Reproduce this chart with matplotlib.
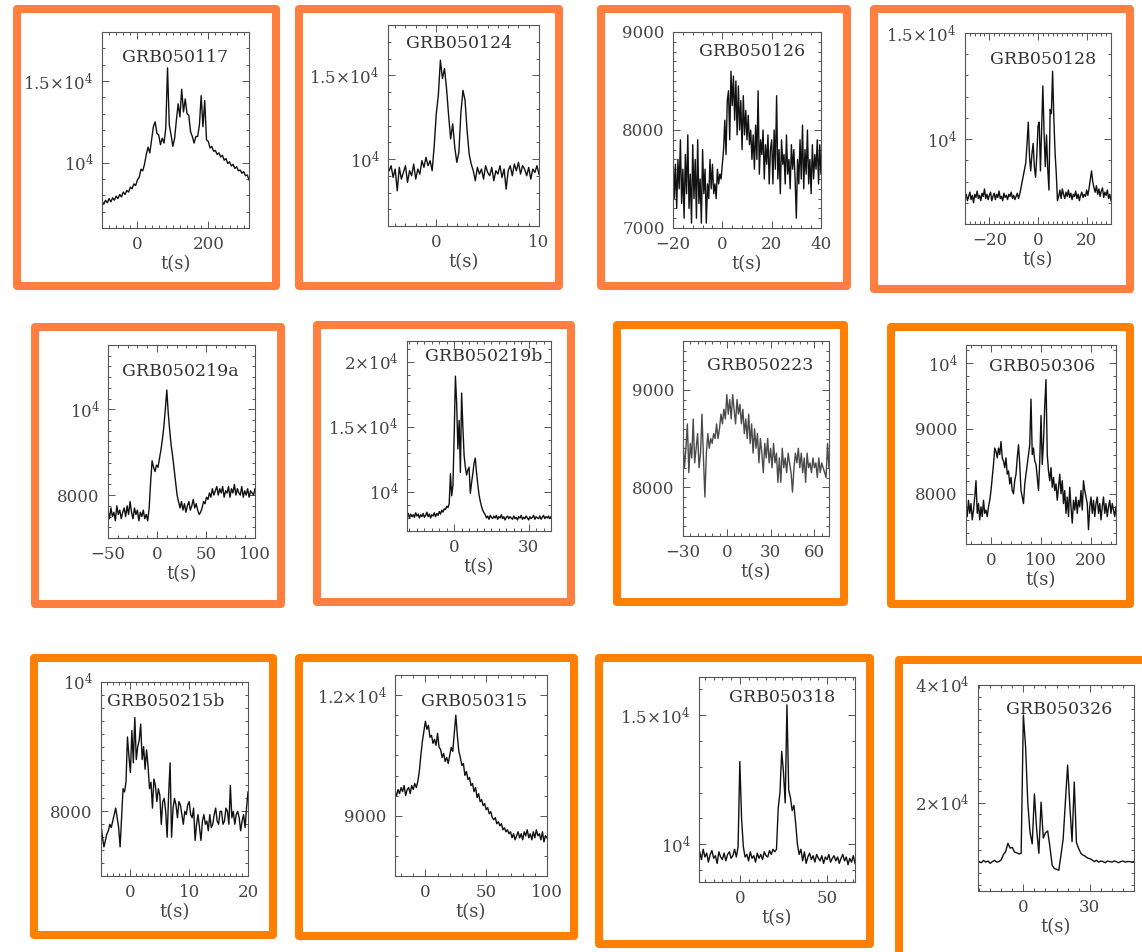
import numpy as np
import matplotlib.pyplot as plt
from matplotlib.patches import Rectangle
from matplotlib.ticker import MultipleLocator

plt.rcParams['font.family'] = ['DejaVu Serif']
plt.rcParams['mathtext.fontset'] = 'dejavuserif'

# burst names, time span of the binned light curves (s) and count rates
names = ['GRB050117', 'GRB050124', 'GRB050126', 'GRB050128',
         'GRB050219a', 'GRB050219b', 'GRB050223', 'GRB050306',
         'GRB050215b', 'GRB050315', 'GRB050318', 'GRB050326']
t_spans = [(-100, 315), (-4.6, 10), (-20, 40), (-30, 30),
           (-50, 100), (-19, 39), (-30, 70), (-50, 250),
           (-5, 20), (-25, 100), (-23, 66), (-20, 50)]

rate_050117 = [7650, 7450, 7700, 7550, 7800, 7600, 7850, 7700, 7950, 7800, 8050, 7900, 8200, 8050,
               8300, 8200, 8500, 8400, 8700, 8600, 8950, 9100, 9600, 9500, 9900, 10500, 10950, 10600,
               11400, 12200, 12500, 11800, 11700, 11100, 11500, 11200, 12100, 15800, 12300, 11700,
               11000, 11500, 12600, 13600, 12800, 14500, 13100, 13900, 13000, 12900, 11900, 11600,
               11200, 11600, 11600, 12300, 14100, 12200, 13800, 11400, 11300, 10900, 11000, 10700,
               10750, 10500, 10600, 10350, 10450, 10150, 10250, 9950, 10050, 9800, 9900, 9650, 9750,
               9500, 9550, 9350, 9450, 9200, 9250, 8950]
rate_050124 = [9300, 9600, 8900, 9400, 8100, 9500, 8800, 9200, 9600, 8600, 9300, 9000, 9700, 8800,
               9400, 9100, 9900, 9500, 10100, 9600, 9900, 9300,
               10800, 12700, 13800, 15900, 14800, 15400, 14200, 12600, 11200, 12100, 10700, 9800,
               10400, 12800, 14100, 13500, 11700, 10300, 9700, 9300,
               8700, 9500, 9100, 9400, 8800, 9600, 9200, 9000, 9500, 8700, 9300, 9100, 9600, 8900,
               9400, 8200, 9300, 9600, 9000, 9700, 9300, 9800, 9100, 9600, 9400, 9000, 9500, 8800,
               9400, 9200, 9600, 9100]
rate_050126 = [7800, 7300, 7650, 7200, 7700, 7400, 7900, 7250, 7600, 7100, 7750, 7350, 7950, 7200,
               7550, 7050, 7850, 7300, 7700, 7100, 7900, 7250, 7500, 7050, 7800, 7350, 7600, 7050,
               7450, 7300, 7700, 7400, 7650, 7350, 7450, 7300, 7600, 7450, 7550, 7500,
               7650, 7800, 8100, 7750, 8300, 8400, 7900, 8600, 8250, 8550, 8100, 8500,
               7950, 8450, 8000, 8300, 7800, 8350, 7950, 8200, 7900, 8150, 7850, 8000, 7700,
               7950, 7600, 8050, 7700, 8400, 7550, 7900, 7750, 8000, 7500, 7850, 7650, 7950, 7450,
               7800, 7900,
               7450, 8000, 7600, 8350, 7500, 7800, 7350, 7900, 7650, 7750, 7450, 7950, 7550, 7700,
               7400, 7850, 7600, 7800, 7500, 7100,
               7700, 7450, 7900, 7500, 8050, 7400, 7800, 7550, 8000, 7450, 7700, 7350, 7850, 7500,
               7750, 7600, 7900, 7450, 7850, 7550]
rate_050128 = [7200, 7400, 7100, 7300, 7500, 7150, 7350, 7000, 7400, 7250, 7550, 7200, 7350, 7100,
               7450, 7300, 7650, 7200, 7400, 7150, 7350, 7500, 7100, 7300, 7450, 7150, 7400, 7250,
               7550, 7200, 7300, 7100, 7450, 7250, 7350, 7150, 7400, 7300, 7500, 7200, 7350, 7150,
               7300, 7450, 7200, 7400,
               7700, 8000, 8300, 8600, 8900, 9800, 10800, 9200, 8500, 9300, 9800, 8700, 8200, 9200,
               10600, 10800, 8500, 10500, 12500, 10300, 8700, 10200, 8600, 7600, 11400, 11200, 13200,
               11000, 9400, 8400, 7100,
               7300, 7600, 7200, 7650, 7400, 7200, 7500, 7300, 7600, 7250, 7450, 7150, 7400, 7300,
               7550, 7200, 7400, 7100, 7350, 7500, 7250, 7400, 7300, 7600, 7350, 7700, 8100, 8500,
               8000, 7700, 7500, 7800, 7400, 7650, 7300, 7550, 7700, 7250, 7500, 7350, 7600, 7200,
               7400, 7100]
rate_050219a = [7650, 7450, 7700, 7500, 7600, 7400, 7750, 7550, 7650, 7450, 7600, 7700, 7500, 7750,
                7550, 7850, 7600, 7450, 7700, 7550, 7650, 7400, 7600, 7500, 7650, 7450, 7550, 7400,
                7700, 8300, 8800, 8650, 8550, 8700, 8650, 8850, 9050, 9300, 9600, 10000, 10450, 9900,
                9500, 9150, 8900, 8600, 8300, 8000, 7850,
                7700, 7850, 7650, 7800, 7600, 7750, 7850, 7650, 7750, 7900, 7700, 7800, 7650, 7550,
                7600, 7700, 7850, 7800, 7950, 7900, 8050, 7950, 8150, 8000, 8100, 8200, 8000, 8150,
                8050, 8200, 7950, 8100, 8050, 8200, 7950, 8150, 8050, 8250, 8000, 8150, 8050, 8000,
                8200, 7950, 8100, 8000, 8150, 7950, 8100, 8050, 8000, 8150]
rate_050219b = [8150, 8350, 8000, 8300, 8100, 8250, 8050, 8400, 8150, 8300, 8000, 8250, 8100, 8350,
                8050, 8200, 8450, 8100, 8300, 8000, 8250, 8150, 8400, 8100, 8350, 8200, 8500, 8300,
                8600, 8450, 8700, 8650,
                8900, 8800, 9100, 11400, 9700, 10500, 14300, 18900, 16800, 13300, 15500, 11500, 17600,
                15000, 12800, 11900, 11300, 11700, 11900, 9900, 10700, 11400, 12200, 12600, 11500,
                10600, 9800, 9300, 8900, 8600, 8400,
                8250, 8000, 8150, 7900, 8200, 8050, 7950, 8150, 8000, 8200, 7900, 8100, 8000, 8250,
                7950, 8100, 7850, 8050, 8150, 7950, 8100, 8000, 7900, 8150, 7950, 8050, 7850, 8100,
                8000, 8200, 7900, 8050, 7950, 8150, 8000, 7850, 8100, 7950, 8050, 8200, 7900, 8100,
                8000, 7950, 8150, 7900, 8050, 8200, 7950, 8100, 8000, 8150, 7950, 8100]
rate_050223 = [8500, 8200, 8400, 8650, 8150, 8450, 8300, 8700, 8250, 8400, 8550, 8200, 8350, 8750,
               8300, 7900, 8350, 8550,
               8400, 8500, 8450, 8550, 8500, 8650, 8500, 8600, 8750, 8650, 8800, 8700, 8950,
               8750, 8900, 8700, 8950, 8800, 8650, 8900, 8750, 8850, 8650,
               8800, 8550, 8700, 8500, 8750, 8450, 8650, 8350, 8600, 8400, 8550, 8250, 8500, 8350,
               8150, 8450, 8300, 8500, 8250, 8400,
               8200, 8450, 8250, 8350, 8050, 8300, 8050, 8400, 8200, 8300, 8150, 8350, 8250, 8150,
               7950, 8200, 8350, 8250, 8400, 8200,
               8350, 8150, 8300, 8050, 8350, 8200, 8250, 8150, 8300, 8200, 8250, 8100, 8300, 8150,
               8250, 8200, 8150, 8100, 8450, 8200]
rate_050306 = [7800, 7650, 7900, 7700, 7850, 7600, 7750, 7950, 8200, 7700, 7850, 7600, 7800, 7650,
               7900, 7700, 7750, 7650, 7800,
               7900, 8050, 8250, 8450, 8700, 8650, 8550, 8700, 8600, 8800,
               8550, 8500, 8400, 8550, 8300, 8350, 8150, 8250, 8050, 8000, 8200,
               8300, 8550, 8750, 8450, 8050, 7950, 7850, 8150, 8300, 8450, 8600,
               8750, 9450, 8600, 8700, 8500, 8450, 8250, 8050, 8500, 9200, 8450, 8800, 9350, 9750,
               8600, 8350, 8200, 8400,
               8100, 8250, 8050, 8150, 7900, 8100, 8300, 8000, 8200, 7850, 8050, 7700, 7950, 7650,
               8100, 7800, 7550, 7900, 7750, 7950, 7700, 7900, 7800, 8050, 7750, 8200, 8050, 7950,
               7850, 7450, 7800, 7950, 7700, 7900, 7650, 7850, 7950, 7700, 7850, 7600, 7800, 7950,
               7700, 7850, 7650, 7800, 7900, 7700, 7850, 7750, 7650, 7800]
rate_050215b = [7800, 7600, 7450, 7550, 7650, 7700, 7800, 7750, 7850, 7950, 8050, 7900, 7750, 7450,
                7900, 8350, 8300, 8450, 9150, 8850, 8600, 9250, 8750, 9450, 8800, 9000, 9100, 9350,
                8800, 9000, 8650, 8950, 8700, 8350, 8450, 8050, 8500, 8400, 8150, 8350, 8250, 7800,
                8150, 8200, 8000, 7600, 8250, 8750, 7600, 8050, 8200, 8100, 7900, 8150, 8100, 7950,
                7800, 8000, 7950, 8100, 8150, 7950, 7900, 8050, 7550, 7800, 7950, 7750, 7550, 7850,
                7950, 7800, 7850, 7700, 7950, 7750, 7800, 7950, 8050, 7850, 7800, 8000, 8000, 7800,
                7850, 8050, 8000, 7800, 8400, 7900, 8000, 7800, 7950, 8000, 7900, 7700, 7850, 7950,
                7750, 8050, 8300]
rate_050315 = [9600, 9500, 9650, 9550, 9700, 9600, 9750, 9500, 9650, 9700, 9550, 9750, 9650, 9800,
               9700,
               9850, 10100, 10500, 10850, 11100, 11350,
               11150, 11250, 10950, 11000, 10800, 10900, 10750, 11050, 10700, 10650, 10450, 10550,
               10350, 10450, 10300, 10500, 10700, 10600, 11050, 11500,
               11000, 10600, 10450, 10250, 10300, 10000, 10100, 9900, 9950, 9750, 9800, 9600, 9700,
               9450, 9550, 9350, 9400, 9250, 9300, 9150,
               9200, 9050, 9100, 8950, 8900, 8950, 8800, 8850, 8750, 8800, 8650, 8700, 8600, 8650,
               8550, 8600, 8450, 8550, 8400, 8500,
               8600, 8450, 8550, 8400, 8600, 8500, 8650, 8450, 8550, 8400, 8600, 8450, 8650, 8500,
               8550, 8400, 8600, 8350, 8500, 8450]
rate_050318 = [9700, 9400, 9800, 9500, 9650, 9300, 9600, 9750, 9450, 9550, 9250, 9700, 9500, 9400,
               9650, 9350, 9600, 9700, 9450, 9550, 9800, 9500,
               9900, 13200, 11000, 9900, 9500,
               9600, 9350, 9700, 9450, 9550, 9300, 9650, 9450, 9600, 9400, 9700, 9550, 9500, 9750,
               9600, 9800, 9700,
               9800, 11400, 12000, 13600, 12800, 11600, 15400, 12100, 11800, 11300, 11500, 10800,
               10000, 9600,
               9800, 9350, 9700, 9250, 9500, 9650, 9400, 9550, 9300, 9600, 9450, 9350, 9550, 9250,
               9500, 9400, 9600, 9300, 9450, 9550, 9350, 9500, 9250, 9450, 9600, 9350, 9500, 9200,
               9450, 9300, 9550, 9250]
rate_050326 = [10000, 9800, 10200, 9900, 10100, 9700, 10000, 10200, 9900, 10000,
               10300, 11200, 11700, 13100, 12300, 12400, 11600, 11500, 11300, 11400,
               34900, 29500, 20000, 15000, 13000, 21500, 15500, 11400, 20100, 14000, 14900, 15200,
               12500, 9400, 8800, 8700, 8500,
               11100, 13900, 20200, 26400, 19500, 13400, 23500, 13200, 12200, 11400, 11100, 10900,
               10600, 10500,
               10300, 10000, 10200, 9900, 10100, 10000, 9800, 10100, 10000, 9900, 10100, 10000, 9800,
               10000, 10100, 9900, 10000, 10000, 9900, 10000]

rates = [rate_050117, rate_050124, rate_050126, rate_050128, rate_050219a, rate_050219b,
         rate_050223, rate_050306, rate_050215b, rate_050315, rate_050318, rate_050326]

# axis ranges and labelled ticks, as printed
xlims = [(-100, 315), (-4.7, 10), (-20, 40), (-30, 30), (-50, 100), (-19, 39),
         (-30, 70), (-50, 250), (-5, 20), (-25, 100), (-23.4, 66), (-20.5, 50)]
ylims = [(6000, 18000), (6000, 18000), (7000, 9000), (6000, 15000), (7000, 11500), (7000, 21600),
         (7500, 9500), (7230, 10280), (7000, 10000), (7500, 12500), (8530, 16480), (5000, 40000)]
xticks = [[0, 200], [0, 10], [-20, 0, 20, 40], [-20, 0, 20], [-50, 0, 50, 100], [0, 30],
          [-30, 0, 30, 60], [0, 100, 200], [0, 10, 20], [0, 50, 100], [0, 50], [0, 30]]
xminor = [20, 1, 4, 2, 10, 3, 5, 20, 1, 10, 5, 5]
yticks = [[10000, 15000], [10000, 15000], [7000, 8000, 9000], [10000, 15000], [8000, 10000],
          [10000, 15000, 20000], [8000, 9000], [8000, 9000, 10000], [8000, 10000],
          [9000, 12000], [10000, 15000], [20000, 40000]]
ylabels = [['10$^4$', '1.5×10$^4$'], ['10$^4$', '1.5×10$^4$'], ['7000', '8000', '9000'],
           ['10$^4$', '1.5×10$^4$'], ['8000', '10$^4$'], ['10$^4$', '1.5×10$^4$', '2×10$^4$'],
           ['8000', '9000'], ['8000', '9000', '10$^4$'], ['8000', '10$^4$'],
           ['9000', '1.2×10$^4$'], ['10$^4$', '1.5×10$^4$'], ['2×10$^4$', '4×10$^4$']]
yminor = [1000, 1000, 100, 1000, 250, 1000, 100, 200, 200, 500, 1000, 2000]

# layout in pixels: axes box and orange frame (x0, x1, y0, y1), name position in axes fraction
W, H = 1142, 952
ax_px = [(102, 249, 32, 228), (388, 539, 25, 226), (673, 821, 32, 228), (965, 1111, 33, 224),
         (108, 255, 345, 538), (407, 551, 341, 531), (683, 829, 341, 536), (966, 1116, 345, 544),
         (101, 248, 682, 876), (395, 547, 675, 876), (699, 855, 677, 882), (978, 1134, 685, 891)]
frame_px = [(17, 276, 9, 286), (299, 559, 9, 286), (601, 847, 9, 286), (874, 1130, 9, 289),
            (35, 281, 327, 604), (317, 571, 325, 602), (617, 844, 325, 602), (891, 1130, 327, 604),
            (34, 273, 658, 935), (299, 574, 658, 936), (599, 870, 658, 944), (899, 1165, 660, 975)]
name_pos = [(0.497, 0.872), (0.47, 0.91), (0.534, 0.898), (0.534, 0.859),
            (0.49, 0.865), (0.535, 0.921), (0.527, 0.872), (0.507, 0.894),
            (0.442, 0.897), (0.52, 0.866), (0.532, 0.902), (0.519, 0.879)]
coral = '#ff7f40'
orange = '#ff7f00'
frame_cols = [coral] * 6 + [orange] * 6

fig = plt.figure(figsize=(W / 100, H / 100), dpi=100)

for i in range(12):
    x0, x1, y0, y1 = frame_px[i]
    fig.add_artist(Rectangle((x0 / W, 1 - y1 / H), (x1 - x0) / W, (y1 - y0) / H,
                             transform=fig.transFigure, fill=False, ec=frame_cols[i],
                             lw=5.8, joinstyle='round'))

    a0, a1, b0, b1 = ax_px[i]
    ax = fig.add_axes([a0 / W, 1 - b1 / H, (a1 - a0) / W, (b1 - b0) / H])
    t = np.linspace(t_spans[i][0], t_spans[i][1], len(rates[i]))
    lc = '#4a4a4a' if i == 6 else '#111111'
    ax.plot(t, rates[i], color=lc, lw=1.0)

    ax.set_xlim(xlims[i])
    ax.set_ylim(ylims[i])
    ax.set_xticks(xticks[i])
    ax.set_yticks(yticks[i], ylabels[i])
    ax.xaxis.set_minor_locator(MultipleLocator(xminor[i]))
    ax.yaxis.set_minor_locator(MultipleLocator(yminor[i]))
    ax.tick_params(which='both', direction='in', top=True, right=True, color='#555555',
                   width=0.7, labelsize=12, labelcolor='#444444', pad=6)
    ax.tick_params(which='major', length=5)
    ax.tick_params(which='minor', length=2.5)
    for sp in ax.spines.values():
        sp.set_color('#555555')
        sp.set_linewidth(0.8)
    ax.set_xlabel('t(s)', fontsize=13, color='#444444', labelpad=1)
    ax.text(name_pos[i][0], name_pos[i][1], names[i], transform=ax.transAxes,
            ha='center', va='center', fontsize=12.5, color='#333333')

fig.savefig('out.png', dpi=100)
